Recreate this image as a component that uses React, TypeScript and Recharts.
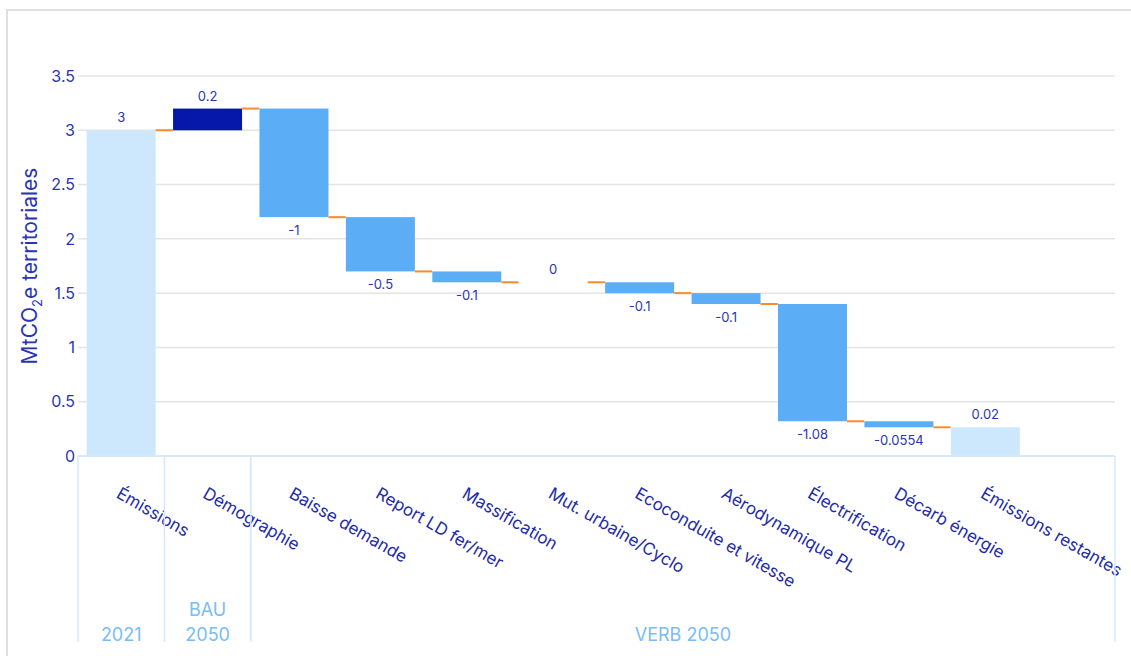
import { Bar, BarChart, CartesianGrid, XAxis, YAxis } from "recharts";

const categories = [
  "Émissions",
  "Démographie",
  "Baisse demande",
  "Report LD fer/mer",
  "Massification",
  "Mut. urbaine/Cyclo",
  "Ecoconduite et vitesse",
  "Aérodynamique PL",
  "Électrification",
  "Décarb énergie",
  "Émissions restantes",
];

// variations successives (la dernière barre est le total restant)
const deltas = [3, 0.2, -1, -0.5, -0.1, 0, -0.1, -0.1, -1.08, -0.0554];
const valueLabels = ["3", "0.2", "-1", "-0.5", "-0.1", "0", "-0.1", "-0.1", "-1.08", "-0.0554", "0.02"];
const kinds = ["start", "bau", "step", "step", "step", "step", "step", "step", "step", "step", "total"];
const yTicks = [0, 0.5, 1, 1.5, 2, 2.5, 3, 3.5];

const groups = [
  { label: ["2021"], from: 0, to: 1 },
  { label: ["BAU", "2050"], from: 1, to: 2 },
  { label: ["VERB 2050"], from: 2, to: 12 },
];

const colors: Record<string, string> = {
  start: "#cde8fc",
  total: "#cde8fc",
  bau: "#0618a9",
  step: "#5badf6",
};

let running = 0;
const data: any[] = categories.map((name, i) => {
  if (i >= deltas.length) {
    return { name, range: [0, running], delta: running, kind: kinds[i], label: valueLabels[i], link: false };
  }
  const start = running;
  running += deltas[i];
  return {
    name,
    range: [Math.min(start, running), Math.max(start, running)],
    delta: deltas[i],
    kind: kinds[i],
    label: valueLabels[i],
    link: true,
  };
});
// bande vide à droite
data.push({ name: " " });

function WaterfallBar(props: any) {
  const { x, y, width, height, payload } = props;
  if (!payload || !payload.kind || !Number.isFinite(y) || !Number.isFinite(height)) return null;
  const top = Math.min(y, y + height);
  const bottom = Math.max(y, y + height);
  const up = payload.delta >= 0;
  const linkY = up ? top : bottom;
  return (
    <g>
      {bottom - top > 0 && (
        <rect x={x} y={top} width={width} height={bottom - top} fill={colors[payload.kind]} />
      )}
      {payload.link && (
        <line x1={x + width} x2={x + width * 1.25} y1={linkY} y2={linkY} stroke="#ff8a2b" strokeWidth={2} />
      )}
      <text
        x={x + width / 2}
        y={up ? top - 8 : bottom + 18}
        textAnchor="middle"
        fontSize={13}
        fill="#2a35b3"
      >
        {payload.label}
      </text>
    </g>
  );
}

function CategoryTick(props: any) {
  const { x, y, payload, index } = props;
  const half = payload.offset ?? 0;
  const group = groups.find((g) => g.from === index);
  const isLast = index === data.length - 1;
  return (
    <g>
      <text transform={`translate(${x - 6},${y + 41}) rotate(30)`} fontSize={17} fill="#1f2ca8">
        {payload.value}
      </text>
      {group && (
        <>
          <line x1={x - half} x2={x - half} y1={y} y2={y + 186} stroke="#d3e8fc" strokeWidth={1.5} />
          {group.label.map((line, k) => (
            <text
              key={line}
              x={x - half + (group.to - group.from) * half}
              y={y + 185 - (group.label.length - 1 - k) * 25}
              textAnchor="middle"
              fontSize={18}
              fill="#79bcf7"
            >
              {line}
            </text>
          ))}
        </>
      )}
      {isLast && (
        <line x1={x + half} x2={x + half} y1={y} y2={y + 186} stroke="#d3e8fc" strokeWidth={1.5} />
      )}
    </g>
  );
}

function YTitle({ viewBox }: any) {
  if (!viewBox) return null;
  const cx = viewBox.x + 29;
  const cy = viewBox.y + viewBox.height / 2;
  return (
    <text transform={`rotate(-90, ${cx}, ${cy})`} x={cx} y={cy} textAnchor="middle" fontSize={21} fill="#2a35b3">
      MtCO
      <tspan fontSize={13} dy={5}>
        2
      </tspan>
      <tspan dy={-5}>e territoriales</tspan>
    </text>
  );
}

export default function App() {
  return (
    <div
      style={{
        position: "absolute",
        top: 9,
        left: 6,
        width: 1125,
        height: 647,
        borderLeft: "2px solid #e0e0e0",
        borderTop: "2px solid #e0e0e0",
        fontFamily: "Inter, sans-serif",
      }}
    >
      <style>{`body{overflow:hidden}`}</style>
      <BarChart
        width={1123}
        height={645}
        data={data}
        margin={{ top: 65, right: 16, bottom: 14, left: 0 }}
        barCategoryGap="10%"
      >
        <CartesianGrid vertical={false} stroke="#e4e4e4" strokeWidth={1.5} />
        <XAxis
          dataKey="name"
          interval={0}
          height={186}
          tickLine={false}
          tickSize={0}
          tickMargin={0}
          axisLine={{ stroke: "#d3e8fc", strokeWidth: 1.5 }}
          tick={<CategoryTick />}
        />
        <YAxis
          width={70}
          domain={[0, 3.5]}
          ticks={yTicks}
          interval={0}
          tickLine={false}
          axisLine={false}
          tickSize={0}
          tickMargin={3}
          tick={{ fill: "#2a35b3", fontSize: 16 }}
          label={{ content: (p: any) => <YTitle viewBox={p.viewBox} /> }}
        />
        <Bar dataKey="range" shape={<WaterfallBar />} isAnimationActive={false} />
      </BarChart>
    </div>
  );
}
